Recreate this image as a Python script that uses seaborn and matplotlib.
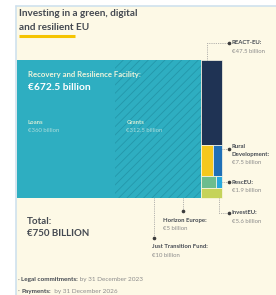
import matplotlib
matplotlib.use("Agg")
import matplotlib.pyplot as plt
import seaborn as sns

# ---------------- data ----------------
rrf_parts = ["Loans", "Grants"]
rrf_values = [360, 312.5]
rrf_value_labels = ["€360 billion", "€312.5 billion"]

fund_names = ["REACT-EU", "Just Transition Fund", "Rural Development",
              "Horizon Europe", "RescEU", "InvestEU"]
fund_values = [47.5, 10, 7.5, 5, 1.9, 5.6]
fund_value_labels = ["€47.5 billion", "€10 billion", "€7.5 billion",
                     "€5 billion", "€1.9 billion", "€5.6 billion"]
# rows of the side column (indices into fund lists)
side_rows = [[0], [1, 2], [3, 4], [5]]

title_lines = ["Investing in a green, digital", "and resilient EU"]
total_label = ["Total:", "€750 BILLION"]
bullets = [("Legal commitments:", " by 31 December 2023"),
           ("Payments:", "  by 31 December 2026")]

# ---------------- style ----------------
sns.set_theme(style="white")
plt.rcParams["font.family"] = ["Lato", "DejaVu Sans"]
plt.rcParams["hatch.linewidth"] = 0.6

CREAM = "#fdf9e6"
TEAL = "#2eaec1"
HATCH = "#2497aa"
fund_colors = ["#1f3354", "#f5c81e", "#1f6fb6", "#6cbd8e", "#27a8dd", "#c5d35a"]
DARK = "#454a52"
GREY = "#8c8c8c"
LINE = "#9a9a9a"

fig = plt.figure(figsize=(2.76, 2.95), dpi=100)
fig.patch.set_facecolor("white")
ax = fig.add_axes([0, 0, 1, 1])
ax.set_xlim(0, 276)
ax.set_ylim(295, 0)
ax.axis("off")

# panel background and border
ax.add_patch(plt.Rectangle((16, 6), 262, 292, facecolor=CREAM, edgecolor="none", zorder=0))
ax.plot([16, 16], [6, 295], color="#cfe1ee", lw=1.2, zorder=1)
ax.plot([16, 276], [6, 6], color="#cfe1ee", lw=1.2, zorder=1)

# title
ax.text(19, 14, title_lines[0], fontsize=7.2, fontweight="bold", color=DARK, va="center", ha="left")
ax.text(19, 27, title_lines[1], fontsize=7.2, fontweight="bold", color=DARK, va="center", ha="left")
ax.plot([19, 75], [36, 36], color="#f5c400", lw=2.2, solid_capstyle="butt")

# ---------------- treemap layout from values ----------------
x0, y0, H = 17.0, 60.0, 138.0
total = sum(rrf_values) + sum(fund_values)
scale = 205.0 * H / total          # px^2 per billion
rrf_w = sum(rrf_values) * scale / H
side_w = sum(fund_values) * scale / H

# RRF: loans / grants
x = x0
rrf_geo = []
for i, v in enumerate(rrf_values):
    w = v * scale / H
    ax.bar(x, H, width=w, bottom=y0, align="edge", color=TEAL,
           edgecolor=HATCH if i == 1 else TEAL, linewidth=0,
           hatch="////" if i == 1 else None, zorder=2)
    rrf_geo.append((x, w))
    x += w

# side column
sx = x0 + rrf_w
y = y0
geo = {}
for row in side_rows:
    rv = sum(fund_values[j] for j in row)
    h = rv * scale / side_w
    xx = sx
    for j in row:
        w = fund_values[j] / rv * side_w
        ax.bar(xx, h, width=w, bottom=y, align="edge", color=fund_colors[j],
               edgecolor=CREAM, linewidth=0.5, zorder=3)
        geo[j] = (xx, y, w, h)
        xx += w
    y += h
bottom = y0 + H
right = sx + side_w

# texts inside teal
ax.text(28, 75, "Recovery and Resilience Facility:", fontsize=5.6, fontweight="bold",
        color="#eef4dc", va="center", zorder=5)
ax.text(28, 87.5, "€672.5 billion", fontsize=7.4, fontweight="bold", color="white", va="center", zorder=5)
for (px, w), name, lab in zip(rrf_geo, rrf_parts, rrf_value_labels):
    ax.text(px + 11, 122, name, fontsize=4.3, fontweight="bold", color="#d5ecd6", va="center", zorder=5)
    ax.text(px + 11, 131, lab, fontsize=4.3, color="#a9dcdc", va="center", zorder=5)

# ---------------- annotations ----------------
def dotted(xs, ys):
    ax.plot(xs, ys, color=LINE, lw=0.6, ls=(0, (1, 1.2)), zorder=4)
    ax.plot(xs[-1], ys[-1], "o", color="#3c3c3c", ms=1.6, zorder=5)

def label(xl, yl, lines, value):
    for k, t in enumerate(lines):
        ax.text(xl, yl + 8.5 * k, t, fontsize=4.3, fontweight="bold", color=DARK, va="center")
    ax.text(xl, yl + 8.5 * len(lines), value, fontsize=4.3, color=GREY, va="center")

lx = right + 10
# REACT-EU
gx, gy, gw, gh = geo[0]
dotted([gx + 6, gx + 6, lx - 3], [gy, 43, 43])
label(lx, 43, ["REACT-EU:"], fund_value_labels[0])
# Rural Development
dotted([right, lx - 3], [149, 149])
label(lx, 146, ["Rural", "Development:"], fund_value_labels[2])
# RescEU
dotted([right, lx - 3], [182, 182])
label(lx, 182, ["RescEU:"], fund_value_labels[4])
# InvestEU
gx, gy, gw, gh = geo[5]
dotted([gx + 18, gx + 18, lx - 3], [gy + gh, 213, 213])
label(lx, 213, ["InvestEU:"], fund_value_labels[5])
# Horizon Europe
dotted([183, 183], [bottom, 211])
label(163, 220.5, ["Horizon Europe:"], fund_value_labels[3])
# Just Transition Fund
dotted([154, 154], [bottom, 238])
label(152, 247, ["Just Transition Fund:"], fund_value_labels[1])

# total
ax.text(27, 221, total_label[0], fontsize=7, fontweight="bold", color=DARK, va="center")
ax.text(27, 233.5, total_label[1], fontsize=7, fontweight="bold", color=DARK, va="center")

# bullets with mixed weights
fig.canvas.draw()
r = fig.canvas.get_renderer()
inv = ax.transData.inverted()
for k, (b, rest) in enumerate(bullets):
    yy = 280 + 11 * k
    ax.text(17.5, yy, "·", fontsize=5, color=GREY, va="center")
    tb = ax.text(21, yy, b, fontsize=4.6, fontweight="bold", color=DARK, va="center")
    ext = tb.get_window_extent(renderer=r)
    xe = inv.transform((ext.x1, ext.y0))[0]
    ax.text(xe, yy, rest, fontsize=4.6, color=GREY, va="center")

fig.savefig("out.png", dpi=100, facecolor=fig.get_facecolor())
